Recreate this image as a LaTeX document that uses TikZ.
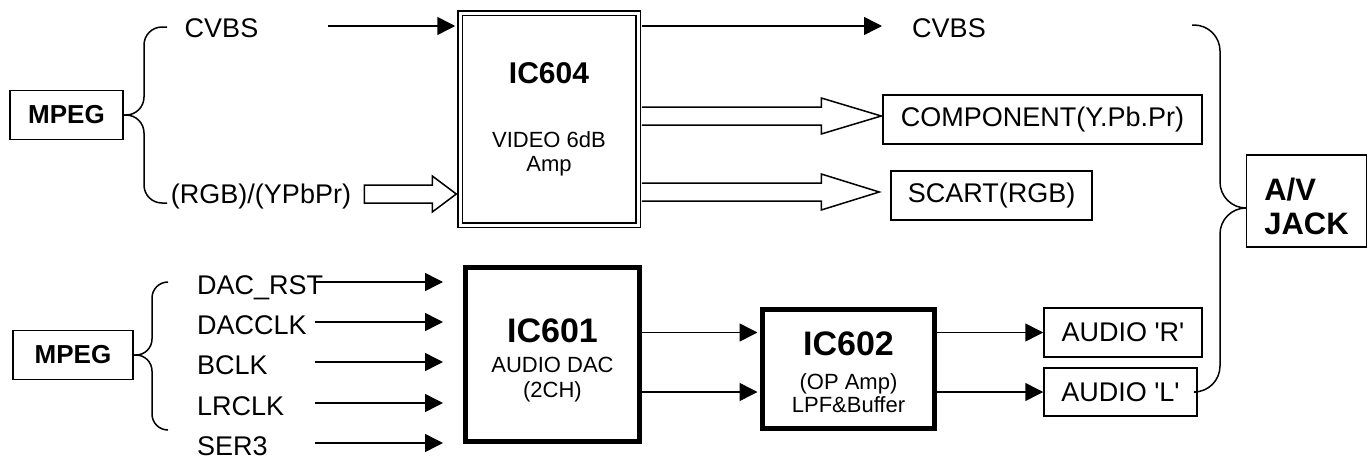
\documentclass[tikz,border=0pt]{standalone}
\usepackage{fontspec}
\setmainfont{Liberation Sans}
\usetikzlibrary{arrows.meta,calc}

% hollow (bus) arrow: tail, tip, head length, closing
\newcommand{\fatarrow}[4]{%
  \draw[fill=white, line width=1.5pt]
    ($(#1)+(0,-9)$) -- ($(#2)+(-#3,-9)$) -- ($(#2)+(-#3,-18)$) -- (#2)
    -- ($(#2)+(-#3,18)$) -- ($(#2)+(-#3,9)$) -- ($(#1)+(0,9)$) #4;}
\newcommand{\sq}{\textquotesingle}

\tikzset{
    >={Triangle[length=18pt,width=18pt]},
    plainbox/.style={
        draw, rectangle,
        line width=1.5pt,
        inner sep=0pt,
        font={\fontsize{27}{32}\selectfont}
    },
    chipbox/.style={
        draw, rectangle,
        line width=5pt,
        inner sep=0pt,
        align=center,
        font={\fontsize{22}{25}\selectfont}
    },
    vidbox/.style={
        draw, rectangle,
        double, double distance=3pt,
        line width=1.5pt,
        inner sep=0pt,
        align=center,
        font={\fontsize{22}{24}\selectfont}
    },
    lbl/.style={inner sep=0pt, font={\fontsize{27}{32}\selectfont}},
    sig/.style={->, line width=1.5pt},
    brace/.style={line width=1.5pt},
}

\begin{document}
\begin{tikzpicture}[x=1pt, y=-1pt]
\useasboundingbox (0,0) rectangle (1369,458);

% video part
\node[plainbox, minimum width=113, minimum height=49] (mpegA) at (66.5,115)
    {\fontsize{26}{30}\selectfont\bfseries MPEG};
\node[vidbox, minimum width=178, minimum height=212] (ic604) at (549,119)
    {{\fontsize{30}{36}\selectfont\bfseries IC604}\\[40pt]VIDEO 6dB\\Amp};
\node[lbl, anchor=base] (cvbsA) at (221.5,37) {CVBS};
\node[lbl, anchor=base] (rgbA) at (261,203) {(RGB)/(YPbPr)};
\node[lbl, anchor=base] (cvbsB) at (949,37) {CVBS};
\node[plainbox, minimum width=319, minimum height=49] (comp) at (1042.5,119.5)
    {COMPONENT(Y.Pb.Pr)};
\node[plainbox, minimum width=201, minimum height=49] (scart) at (991.5,195.5)
    {SCART(RGB)};
\node[plainbox, minimum width=120, minimum height=92, align=left,
      font={\fontsize{31}{34}\selectfont\bfseries}] (avjack) at (1306.5,201)
    {\rule{0pt}{34pt}A/V\\JACK};

% audio part
\node[plainbox, minimum width=120, minimum height=49] (mpegB) at (73,355)
    {\fontsize{26}{30}\selectfont\bfseries MPEG};
\node[chipbox, minimum width=174, minimum height=174] (ic601) at (552.5,354.5)
    {{\fontsize{34}{40}\selectfont\bfseries\rule{0pt}{36pt}IC601}\\[5pt]AUDIO DAC\\(2CH)};
\node[chipbox, minimum width=172, minimum height=119, font={\fontsize{22}{23}\selectfont}] (ic602) at (848.5,369)
    {{\fontsize{34}{40}\selectfont\bfseries\rule{0pt}{31pt}IC602}\\[11pt](OP Amp)\\LPF\&Buffer};
\node[plainbox, minimum width=158, minimum height=49] (audR) at (1123,332.5) {AUDIO \sq R\sq};
\node[plainbox, minimum width=153, minimum height=48] (audL) at (1120.5,392) {AUDIO \sq L\sq};

% video connections
\coordinate (cvbsin) at (328,26);
\coordinate (cvbsout) at (882,26);
\draw[sig, shorten >=4pt] (cvbsin) -- (cvbsin -| ic604.west);
\draw[sig, shorten <=3pt] (cvbsout -| ic604.east) -- (cvbsout);

\coordinate (rgbtip) at ($(ic604.west)+(-3,75)$);
\coordinate (rgbtail) at ($(rgbtip)+(-92,0)$);
\fatarrow{rgbtail}{rgbtip}{24}{-- cycle}
\coordinate (comptail) at ($(ic604.east)+(3,-3)$);
\coordinate (comptip) at ($(comp.west)+(-1,-3.5)$);
\fatarrow{comptail}{comptip}{60}{}
\coordinate (scarttail) at ($(ic604.east)+(3,73)$);
\coordinate (scarttip) at ($(scart.west)+(-11,-3.5)$);
\fatarrow{scarttail}{scarttip}{58}{}

% audio connections
\foreach \name/\y [count=\i] in {DAC\_RST/282, DACCLK/322, BCLK/362, LRCLK/403, SER3/443} {
    \node[lbl, anchor=base west] (s\i) at (197,\y+12) {\name};
    \coordinate (a\i) at (315,\y);
    \coordinate (b\i) at (443,\y);
    \draw[sig] (a\i) -- (b\i);
}
\draw[sig, shorten >=2.5pt] (ic601.east |- audR.west) -- (ic602.west |- audR.west);
\draw[sig, shorten >=2.5pt] (ic601.east |- audL.west) -- (ic602.west |- audL.west);
\draw[sig] (ic602.east |- audR.west) -- (audR.west);
\draw[sig] (ic602.east |- audL.west) -- (audL.west);

% braces
\coordinate (bA) at (144,115);
\draw[brace, rounded corners=18pt] (167,27) -| (bA) -- (mpegA.east);
\draw[brace, rounded corners=18pt] (mpegA.east) -- (bA) |- (167,203);
\coordinate (bB) at (152,355);
\draw[brace, rounded corners=16pt] (168,282) -| (bB) -- (mpegB.east);
\draw[brace, rounded corners=16pt] (mpegB.east) -- (bB) |- (168,430);
\coordinate (avtop) at (1192,25);
\coordinate (bC) at (1220,208);
\draw[brace, rounded corners=26pt] (avtop) -| (bC) -- (bC -| avjack.west);
\draw[brace, rounded corners=26pt] (bC -| avjack.west) -- (bC) |- (audL.east);
\end{tikzpicture}
\end{document}
